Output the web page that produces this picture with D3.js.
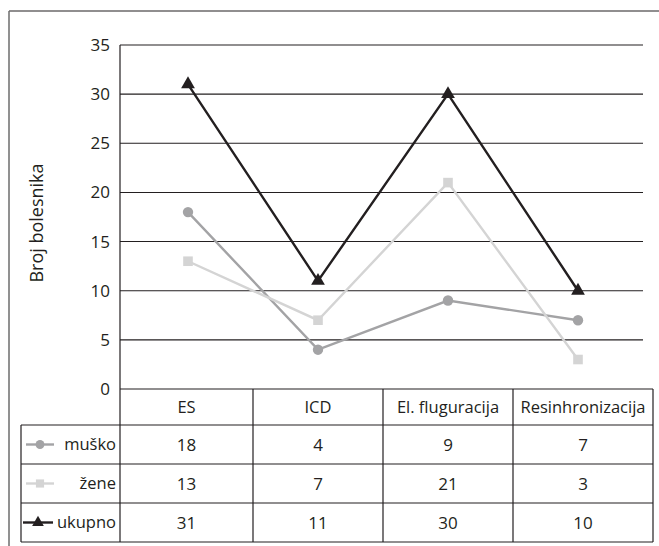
<!DOCTYPE html>
<html>
<head>
<meta charset="utf-8">
<script src="https://cdn.jsdelivr.net/npm/d3@7"></script>
<style>
  html, body { margin: 0; padding: 0; background: #fff; }
  svg { display: block; font-family: "Open Sans", "Noto Sans", sans-serif; }
</style>
</head>
<body>
<svg id="chart" width="659" height="546"></svg>
<script>
// Categories (procedures) and patient counts per group
const categories = ["ES", "ICD", "El. fluguracija", "Resinhronizacija"];
const musko  = [18, 4, 9, 7];
const zene   = [13, 7, 21, 3];
const ukupno = [31, 11, 30, 10];
const seriesNames = ["muško", "žene", "ukupno"];
const yTicks = [0, 5, 10, 15, 20, 25, 30, 35];
const yTitle = "Broj bolesnika";

const series = [
  { name: seriesNames[0], values: musko,  color: "#a3a3a5", marker: "circle" },
  { name: seriesNames[1], values: zene,   color: "#d4d4d4", marker: "square" },
  { name: seriesNames[2], values: ukupno, color: "#231f20", marker: "triangle" }
];

const svg = d3.select("#chart");
const ink = "#231f20";

// Layout
const axisX = 120, plotRight = 643, plotTop = 45, plotBottom = 389;
const tableLeft = 21, tableRight = 653;
const rowEdges = [389, 425, 464, 503, 542];

const x = d3.scaleBand().domain(categories).range([123, plotRight]);
const y = d3.scaleLinear().domain([0, 35]).range([plotBottom, plotTop]);

// Outer frame (top and left edges)
svg.append("line").attr("x1", 9).attr("x2", 659).attr("y1", 11).attr("y2", 11)
  .attr("stroke", ink).attr("stroke-width", 1.2);
svg.append("line").attr("x1", 9).attr("x2", 9).attr("y1", 11).attr("y2", 546)
  .attr("stroke", "#6d6d6d").attr("stroke-width", 1.5);

// Horizontal gridlines
svg.append("g").selectAll("line").data(yTicks.filter(t => t > 0)).join("line")
  .attr("x1", axisX).attr("x2", plotRight)
  .attr("y1", d => y(d)).attr("y2", d => y(d))
  .attr("stroke", ink).attr("stroke-width", 1.1);

// Y axis with labels
const yAxis = d3.axisLeft(y).tickValues(yTicks).tickSize(0).tickPadding(10);
const gy = svg.append("g").attr("transform", `translate(${axisX},0)`).call(yAxis);
gy.attr("font-size", 17).attr("font-family", "'Open Sans', sans-serif");
gy.select(".domain").remove();
gy.selectAll("text").attr("fill", ink);
svg.append("line").attr("x1", axisX).attr("x2", axisX).attr("y1", plotTop).attr("y2", plotBottom)
  .attr("stroke", ink).attr("stroke-width", 1.2);

// Y axis title
svg.append("text")
  .attr("transform", `translate(43,223) rotate(-90)`)
  .attr("text-anchor", "middle").attr("font-size", 18).attr("fill", ink)
  .text(yTitle);

// Marker drawing helper
function drawMarker(g, type, cx, cy, color, scale) {
  const s = scale || 1;
  if (type === "circle") {
    g.append("circle").attr("cx", cx).attr("cy", cy).attr("r", 5.2 * s).attr("fill", color);
  } else if (type === "square") {
    const h = 4.8 * s;
    g.append("rect").attr("x", cx - h).attr("y", cy - h).attr("width", 2 * h).attr("height", 2 * h)
      .attr("fill", color);
  } else {
    const sym = d3.symbol().type(d3.symbolTriangle).size(82 * s * s);
    g.append("path").attr("d", sym()).attr("transform", `translate(${cx},${cy})`).attr("fill", color);
  }
}

// Series lines and markers
const line = d3.line()
  .x((d, i) => x(categories[i]) + x.bandwidth() / 2)
  .y(d => y(d));

series.forEach(s => {
  const g = svg.append("g");
  g.append("path").datum(s.values).attr("d", line)
    .attr("fill", "none").attr("stroke", s.color).attr("stroke-width", 2.4);
  s.values.forEach((v, i) => {
    drawMarker(g, s.marker, x(categories[i]) + x.bandwidth() / 2, y(v), s.color);
  });
});

// Data table
const colEdges = [axisX].concat(categories.slice(1).map(c => x(c))).concat([tableRight]);
const table = svg.append("g");

// Horizontal rules
rowEdges.forEach((ry, i) => {
  table.append("line")
    .attr("x1", i === 0 ? axisX : tableLeft).attr("x2", tableRight)
    .attr("y1", ry).attr("y2", ry).attr("stroke", ink).attr("stroke-width", 1.2);
});
// Vertical rules
colEdges.forEach(cx => {
  table.append("line").attr("x1", cx).attr("x2", cx)
    .attr("y1", rowEdges[0]).attr("y2", rowEdges[4])
    .attr("stroke", ink).attr("stroke-width", 1.2);
});
table.append("line").attr("x1", tableLeft).attr("x2", tableLeft)
  .attr("y1", rowEdges[1]).attr("y2", rowEdges[4]).attr("stroke", ink).attr("stroke-width", 1.2);

// Header cells
categories.forEach((c, i) => {
  table.append("text")
    .attr("x", (colEdges[i] + colEdges[i + 1]) / 2)
    .attr("y", (rowEdges[0] + rowEdges[1]) / 2)
    .attr("dy", "0.36em").attr("text-anchor", "middle")
    .attr("font-size", 16.5).attr("fill", ink).text(c);
});

// Value rows with legend keys
series.forEach((s, r) => {
  const cy = (rowEdges[r + 1] + rowEdges[r + 2]) / 2;
  const isTotal = s.marker === "triangle";
  const kx0 = isTotal ? 23 : 26, kx1 = isTotal ? 53 : 54, kc = (kx0 + kx1) / 2;
  table.append("line").attr("x1", kx0).attr("x2", kx1).attr("y1", cy).attr("y2", cy)
    .attr("stroke", s.color).attr("stroke-width", 2.4);
  drawMarker(table, s.marker, kc, cy, s.color, 0.85);
  table.append("text").attr("x", 116).attr("y", cy).attr("dy", "0.36em")
    .attr("text-anchor", "end").attr("font-size", 16.5).attr("fill", ink).text(s.name);
  s.values.forEach((v, i) => {
    table.append("text")
      .attr("x", (colEdges[i] + colEdges[i + 1]) / 2).attr("y", cy).attr("dy", "0.36em")
      .attr("text-anchor", "middle").attr("font-size", 17).attr("fill", ink).text(v);
  });
});
</script>
</body>
</html>
